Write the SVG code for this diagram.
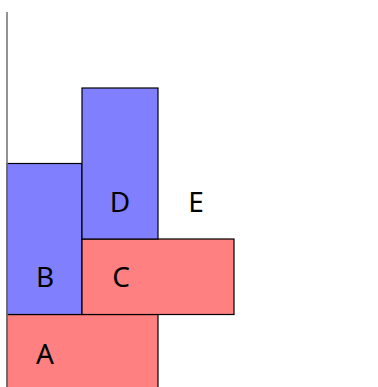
<svg xmlns="http://www.w3.org/2000/svg" width="378" height="387" viewBox="0 0 378 387">
<style>
.r{fill:#ff8080;stroke:#000;stroke-width:1.2}
.b{fill:#8080ff;stroke:#000;stroke-width:1.2}
.t{font-family:"Noto Sans","Open Sans",sans-serif;font-size:28px;fill:#000;text-anchor:middle}
</style>
<rect width="378" height="387" fill="#fff"/>
<g id="A"><rect class="r" x="7" y="314.5" width="151" height="80"/><text class="t" x="45" y="364">A</text></g>
<g id="B"><rect class="b" x="7" y="163.5" width="75" height="151"/><text class="t" x="45" y="287">B</text></g>
<g id="C"><rect class="r" x="82" y="239" width="152" height="75.5"/><text class="t" x="121" y="287">C</text></g>
<g id="D"><rect class="b" x="82" y="88" width="76" height="151"/><text class="t" x="120" y="212">D</text></g>
<g id="E"><text class="t" x="196" y="212">E</text></g>
<g id="connectors"><line x1="7" y1="12" x2="7" y2="387" stroke="#777" stroke-width="1.6"/></g>
</svg>
